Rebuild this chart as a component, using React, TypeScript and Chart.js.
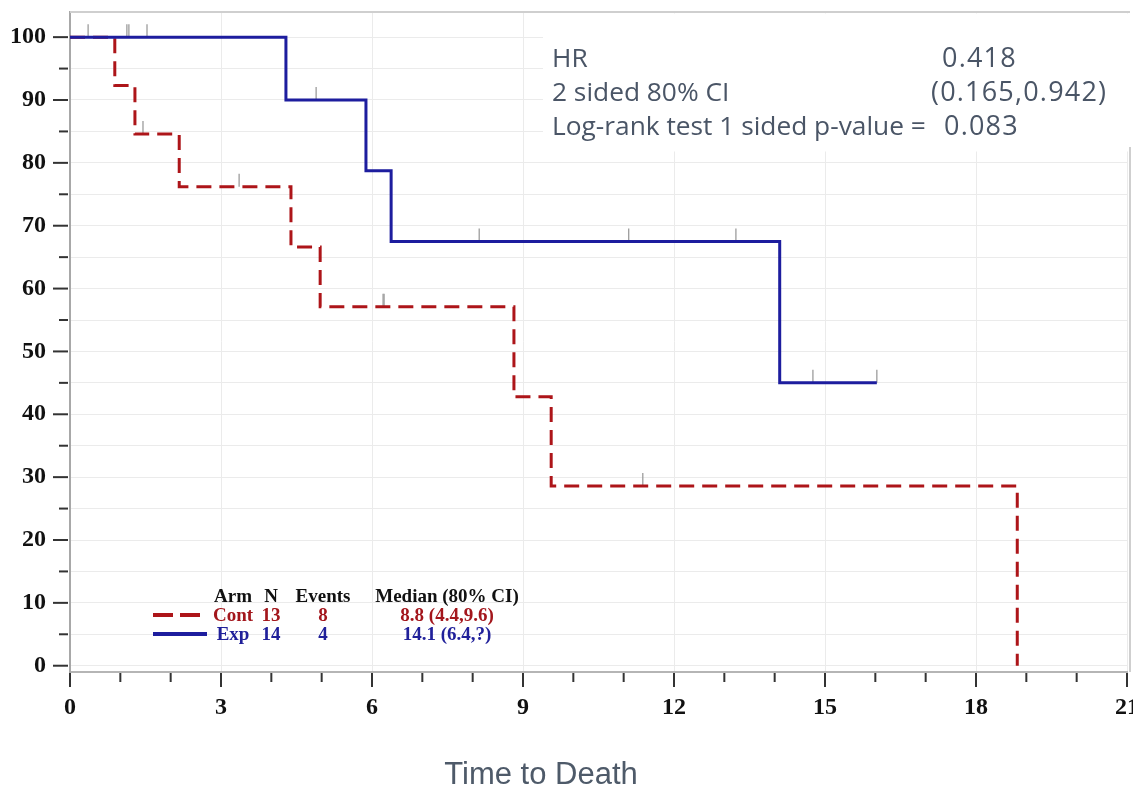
import React, { useEffect, useRef } from 'react';
import { Chart, registerables } from 'chart.js';

Chart.register(...registerables);

// ---- data ----
const EXP_TIMES = [0, 4.29, 5.88, 6.38, 14.1, 16.03];
const EXP_SURV = [100, 90, 78.75, 67.5, 45, 45];
const CONT_TIMES = [0, 0.89, 1.29, 2.17, 4.39, 4.97, 8.82, 9.56, 18.82];
const CONT_SURV = [100, 92.3, 84.6, 76.2, 66.6, 57.1, 42.8, 28.6, 0];
const EXP_CENSOR = [0.36, 1.13, 1.17, 1.53, 4.89, 8.13, 11.1, 13.23, 14.76, 16.03];
const CONT_CENSOR = [1.45, 3.36, 6.22, 6.24, 11.38];

const X_LABELS = [0, 3, 6, 9, 12, 15, 18, 21];
const X_MINOR = [0, 1, 2, 3, 4, 5, 6, 7, 8, 9, 10, 11, 12, 13, 14, 15, 16, 17, 18, 19, 20, 21];
const Y_LABELS = [0, 10, 20, 30, 40, 50, 60, 70, 80, 90, 100];
const Y_MINOR = [0, 5, 10, 15, 20, 25, 30, 35, 40, 45, 50, 55, 60, 65, 70, 75, 80, 85, 90, 95, 100];

const STATS_LABELS = ['HR', '2 sided 80% CI', 'Log-rank test 1 sided p-value ='];
const STATS_VALUES = ['0.418', '(0.165,0.942)', '0.083'];

const LEGEND_HEADER = ['Arm', 'N', 'Events', 'Median (80% CI)'];
const ARMS = ['Cont', 'Exp'];
const ARM_N = ['13', '14'];
const ARM_EVENTS = ['8', '4'];
const ARM_MEDIAN = ['8.8 (4.4,9.6)', '14.1 (6.4,?)'];

const X_TITLE = 'Time to Death';

// ---- styles ----
const RED = '#ad1519';
const BLUE = '#1d1d9e';
const RED_TEXT = '#a3161c';
const BLUE_TEXT = '#20209a';
const SERIF = '"Liberation Serif", "Times New Roman", serif';

function levelAt(times: number[], surv: number[], t: number) {
  let lv = surv[0];
  for (let i = 0; i < times.length; i++) if (times[i] <= t) lv = surv[i];
  return lv;
}

const kmPlugin = {
  id: 'kmDecor',
  beforeDatasetsDraw(chart: any) {
    const { ctx, chartArea: a, scales } = chart;
    const x = scales.x, y = scales.y;
    ctx.save();
    // white background behind stats annotation
    ctx.fillStyle = '#ffffff';
    ctx.fillRect(543, a.top + 1.5, a.right + 6 - 543, 150 - a.top);
    // top / right plot frame
    ctx.strokeStyle = '#cfcfcf';
    ctx.lineWidth = 2;
    ctx.beginPath();
    ctx.moveTo(a.left, a.top);
    ctx.lineTo(a.right + 3, a.top);
    ctx.moveTo(a.right + 3, 147);
    ctx.lineTo(a.right + 3, a.bottom);
    ctx.stroke();
    // censor marks
    ctx.strokeStyle = '#9c9c9c';
    ctx.lineWidth = 1.3;
    const marks = (times: number[], tt: number[], ss: number[]) => {
      times.forEach((t) => {
        const px = x.getPixelForValue(t);
        const py = y.getPixelForValue(levelAt(tt, ss, t));
        ctx.beginPath();
        ctx.moveTo(px, py - 13);
        ctx.lineTo(px, py);
        ctx.stroke();
      });
    };
    marks(EXP_CENSOR, EXP_TIMES, EXP_SURV);
    marks(CONT_CENSOR, CONT_TIMES, CONT_SURV);
    ctx.restore();
  },
  afterDraw(chart: any) {
    const { ctx, chartArea: a, scales } = chart;
    const x = scales.x, y = scales.y;
    ctx.save();
    // axis tick marks
    ctx.strokeStyle = '#333333';
    ctx.lineWidth = 2;
    X_MINOR.forEach((v) => {
      const px = x.getPixelForValue(v);
      const len = X_LABELS.includes(v) ? 14 : 9;
      ctx.beginPath();
      ctx.moveTo(px, a.bottom + 1);
      ctx.lineTo(px, a.bottom + 1 + len);
      ctx.stroke();
    });
    Y_MINOR.forEach((v) => {
      const py = y.getPixelForValue(v);
      const len = Y_LABELS.includes(v) ? 15 : 9;
      ctx.beginPath();
      ctx.moveTo(a.left - 2 - len, py);
      ctx.lineTo(a.left - 2, py);
      ctx.stroke();
    });

    // stats annotation
    ctx.fillStyle = '#4a5566';
    ctx.textAlign = 'left';
    ctx.textBaseline = 'alphabetic';
    const rowsY = [67, 101, 135];
    const valX = [942, 931, 944];
    ctx.font = '26.3px "Open Sans", "Noto Sans", sans-serif';
    STATS_LABELS.forEach((s, i) => ctx.fillText(s, 552, rowsY[i]));
    ctx.font = '27px "Open Sans", "Noto Sans", sans-serif';
    (ctx as any).letterSpacing = '1.2px';
    STATS_VALUES.forEach((s, i) => ctx.fillText(s, valX[i], rowsY[i]));
    (ctx as any).letterSpacing = '0px';

    // legend table
    ctx.font = 'bold 19px ' + SERIF;
    ctx.textAlign = 'center';
    const colX = [233, 271, 323, 447];
    ctx.fillStyle = '#111111';
    LEGEND_HEADER.forEach((h, i) => ctx.fillText(h, colX[i], 602));
    const rowY = [621, 640];
    const lineY = [615, 634];
    const colors = [RED_TEXT, BLUE_TEXT];
    ARMS.forEach((arm, r) => {
      ctx.fillStyle = colors[r];
      ctx.fillText(arm, colX[0], rowY[r]);
      ctx.fillText(ARM_N[r], colX[1], rowY[r]);
      ctx.fillText(ARM_EVENTS[r], colX[2], rowY[r]);
      ctx.fillText(ARM_MEDIAN[r], colX[3], rowY[r]);
    });
    ctx.lineWidth = 4;
    ctx.strokeStyle = RED;
    ctx.setLineDash([20, 7]);
    ctx.beginPath();
    ctx.moveTo(153, lineY[0]);
    ctx.lineTo(200, lineY[0]);
    ctx.stroke();
    ctx.setLineDash([]);
    ctx.strokeStyle = BLUE;
    ctx.beginPath();
    ctx.moveTo(153, lineY[1]);
    ctx.lineTo(207, lineY[1]);
    ctx.stroke();

    // x title
    ctx.fillStyle = '#4e5a69';
    ctx.font = '31px "Liberation Sans Narrow", "Liberation Sans", sans-serif';
    ctx.textAlign = 'center';
    ctx.fillText(X_TITLE, 541, 784);
    ctx.restore();
  },
};

export default function App() {
  const ref = useRef<HTMLCanvasElement>(null);
  useEffect(() => {
    if (!ref.current) return;
    const tickFont = { family: SERIF, size: 24, weight: 'bold' as const };
    const chart = new Chart(ref.current, {
      type: 'line',
      data: {
        datasets: [
          {
            label: 'Exp',
            data: EXP_TIMES.map((t, i) => ({ x: t, y: EXP_SURV[i] })),
            borderColor: BLUE,
            borderWidth: 3,
            stepped: 'before',
            pointRadius: 0,
            fill: false,
          },
          {
            label: 'Cont',
            data: CONT_TIMES.map((t, i) => ({ x: t, y: CONT_SURV[i] })),
            borderColor: RED,
            borderWidth: 3,
            borderDash: [15, 8],
            stepped: 'before',
            pointRadius: 0,
            fill: false,
          },
        ],
      },
      options: {
        animation: false,
        responsive: false,
        layout: { padding: { top: 12, right: 23, left: 0, bottom: 0 } },
        plugins: { legend: { display: false }, tooltip: { enabled: false } },
        scales: {
          x: {
            type: 'linear',
            min: 0,
            max: 21,
            afterBuildTicks: (s: any) => {
              s.ticks = X_MINOR.map((v) => ({ value: v }));
            },
            afterFit: (s: any) => {
              s.height = 114;
              s.paddingLeft = 0;
              s.paddingRight = 0;
            },
            grid: {
              drawTicks: false,
              lineWidth: 1,
              color: (c: any) => (c.tick && X_LABELS.includes(c.tick.value) ? '#ebebeb' : 'rgba(0,0,0,0)'),
            },
            border: { color: '#b5b5b5', width: 2 },
            ticks: {
              autoSkip: false,
              maxRotation: 0,
              padding: 21,
              color: '#111111',
              font: tickFont,
              callback: (v: any) => (X_LABELS.includes(Number(v)) ? String(v) : ''),
            },
          },
          y: {
            type: 'linear',
            min: -1,
            max: 104,
            afterBuildTicks: (s: any) => {
              s.ticks = Y_MINOR.map((v) => ({ value: v }));
            },
            afterFit: (s: any) => {
              s.width = 70;
              s.paddingTop = 0;
              s.paddingBottom = 0;
            },
            grid: { drawTicks: false, lineWidth: 1, color: '#ebebeb' },
            border: { color: '#a8a8a8', width: 2 },
            ticks: {
              autoSkip: false,
              padding: 24,
              color: '#111111',
              font: tickFont,
              callback: (v: any) => (Y_LABELS.includes(Number(v)) ? String(v) : ''),
            },
          },
        },
      },
      plugins: [kmPlugin],
    });
    return () => chart.destroy();
  }, []);
  return (
    <div
      style={{
        position: 'absolute',
        left: 0,
        top: 0,
        width: 1133,
        height: 786,
        overflow: 'hidden',
        background: '#ffffff',
      }}
    >
      <canvas ref={ref} width={1150} height={786} style={{ display: 'block' }} />
    </div>
  );
}
